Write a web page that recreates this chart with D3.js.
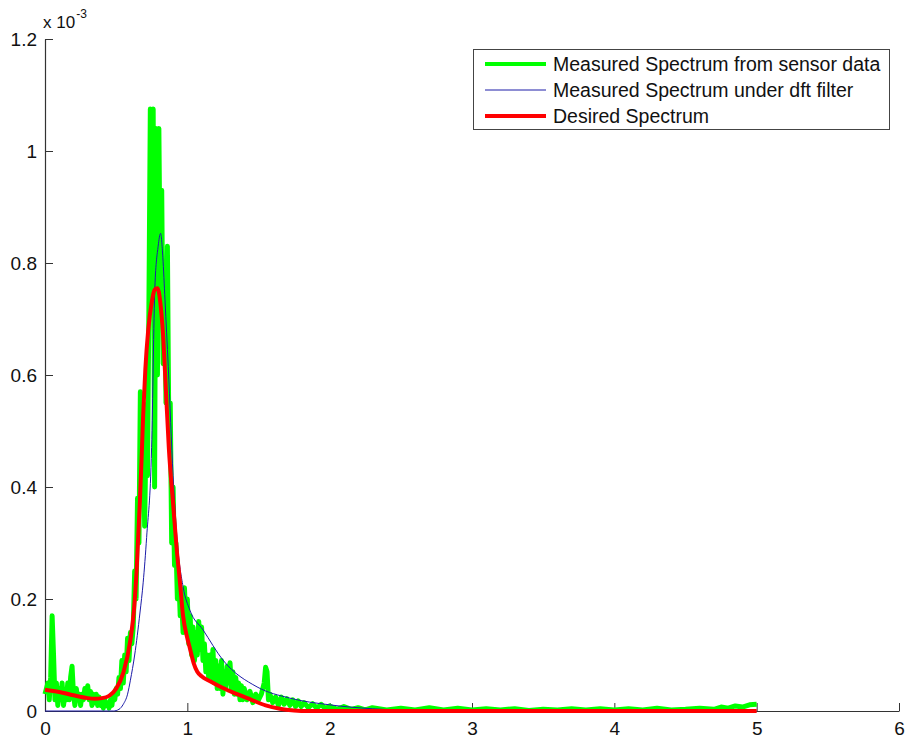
<!DOCTYPE html>
<html><head><meta charset="utf-8">
<script src="https://cdn.jsdelivr.net/npm/d3@7"></script>
<style>body{margin:0;background:#fff}svg{display:block;font-family:"Liberation Sans",Arial,sans-serif}</style>
</head><body><svg id="c" width="911" height="742"></svg>
<script>
// values in units of 1e-3
const greenX = [0,0.02,0.03,0.04,0.05,0.06,0.07,0.08,0.09,0.10,0.11,0.12,0.13,0.14,0.15,0.16,0.17,0.18,0.19,0.20,0.21,0.22,0.23,0.24,0.25,0.26,0.27,0.28,0.29,0.30,0.31,0.32,0.33,0.34,0.35,0.36,0.37,0.38,0.39,0.40,0.41,0.42,0.43,0.44,0.45,0.46,0.47,0.48,0.49,0.50,0.51,0.52,0.53,0.54,0.55,0.56,0.57,0.58,0.59,0.60,0.61,0.62,0.63,0.64,0.65,0.66,0.67,0.68,0.69,0.70,0.71,0.72,0.73,0.74,0.75,0.76,0.77,0.78,0.79,0.80,0.81,0.82,0.83,0.84,0.85,0.86,0.87,0.88,0.89,0.90,0.91,0.92,0.93,0.94,0.95,0.96,0.97,0.98,0.99,1.00,1.01,1.02,1.03,1.04,1.05,1.06,1.07,1.08,1.09,1.10,1.11,1.12,1.13,1.14,1.15,1.16,1.17,1.18,1.19,1.20,1.21,1.22,1.23,1.24,1.25,1.26,1.27,1.28,1.29,1.30,1.31,1.32,1.33,1.34,1.35,1.36,1.37,1.38,1.39,1.40,1.42,1.44,1.46,1.48,1.50,1.52,1.54,1.55,1.56,1.57,1.58,1.60,1.62,1.64,1.66,1.68,1.70,1.72,1.74,1.76,1.78,1.80,1.82,1.85,1.88,1.91,1.94,1.97,2.00,2.05,2.10,2.15,2.20,2.25,2.30,2.40,2.50,2.60,2.70,2.80,2.90,3.00,3.10,3.20,3.30,3.40,3.50,3.60,3.70,3.80,3.90,4.00,4.10,4.20,4.30,4.40,4.50,4.60,4.70,4.75,4.80,4.85,4.90,4.95,5.00];
const greenY = [0.03,0.05,0.02,0.06,0.17,0.10,0.02,0.05,0.01,0.04,0.02,0.05,0.01,0.03,0.02,0.05,0.02,0.06,0.08,0.03,0.01,0.04,0.02,0.03,0.01,0.03,0.02,0.04,0.03,0.045,0.02,0.035,0.01,0.03,0.015,0.03,0.01,0.025,0.01,0.02,0.005,0.02,0.01,0.015,0.005,0.02,0.01,0.03,0.02,0.04,0.03,0.06,0.04,0.09,0.05,0.10,0.07,0.13,0.09,0.14,0.12,0.15,0.25,0.20,0.38,0.30,0.57,0.45,0.55,0.33,0.50,0.42,0.72,1.075,0.80,1.075,0.40,1.04,0.60,1.04,0.75,0.93,0.62,0.80,0.55,0.83,0.50,0.55,0.30,0.40,0.26,0.30,0.20,0.24,0.17,0.20,0.14,0.22,0.15,0.20,0.12,0.17,0.10,0.15,0.09,0.14,0.10,0.16,0.11,0.15,0.09,0.12,0.07,0.10,0.06,0.10,0.06,0.11,0.05,0.09,0.04,0.08,0.04,0.09,0.03,0.07,0.04,0.08,0.05,0.086,0.04,0.07,0.03,0.06,0.03,0.05,0.02,0.045,0.02,0.04,0.02,0.035,0.015,0.03,0.02,0.03,0.05,0.078,0.07,0.02,0.03,0.015,0.025,0.01,0.025,0.012,0.022,0.01,0.02,0.008,0.018,0.008,0.015,0.006,0.013,0.005,0.012,0.004,0.009,0.003,0.008,0.003,0.006,0.002,0.006,0.002,0.005,0.002,0.006,0.002,0.005,0.002,0.004,0.002,0.004,0.001,0.003,0.002,0.004,0.002,0.004,0.002,0.004,0.002,0.005,0.002,0.003,0.005,0.003,0.007,0.005,0.009,0.007,0.011,0.012];
const blueX = [0,0.48,0.52,0.55,0.58,0.60,0.63,0.667,0.69,0.714,0.749,0.772,0.795,0.812,0.828,0.843,0.866,0.90,0.93,0.97,1.018,1.11,1.25,1.49,1.72,2.00,2.30,2.60,3.00,5.00];
const blueY = [0,0,0.003,0.012,0.03,0.055,0.10,0.175,0.23,0.31,0.47,0.757,0.83,0.853,0.81,0.734,0.615,0.42,0.30,0.222,0.18,0.145,0.091,0.043,0.023,0.011,0.004,0.001,0,0];
const redX = [0,0.1,0.2,0.3,0.35,0.4,0.45,0.5,0.55,0.6,0.625,0.645,0.667,0.68,0.69,0.705,0.725,0.75,0.77,0.79,0.81,0.83,0.85,0.87,0.9,0.925,0.948,0.97,1.0,1.02,1.045,1.07,1.1,1.16,1.25,1.35,1.45,1.55,1.65,1.75,1.85,5.0];
const redY = [0.038,0.034,0.028,0.023,0.022,0.023,0.027,0.04,0.068,0.127,0.18,0.257,0.377,0.46,0.53,0.61,0.68,0.73,0.752,0.755,0.73,0.67,0.57,0.47,0.37,0.29,0.23,0.17,0.13,0.11,0.085,0.07,0.062,0.053,0.041,0.03,0.02,0.01,0.004,0.001,0,0];
const xTicks = [0,1,2,3,4,5,6];
const yTicks = [0,0.2,0.4,0.6,0.8,1,1.2];
const seriesNames = ["Measured Spectrum from sensor data","Measured Spectrum under dft filter","Desired Spectrum"];
const seriesColors = ["#00ff00","#1c1ca8","#ff0000"];
const seriesWidths = [5,1,4];

const svg = d3.select("#c");
const L=45,R=899,T=39,B=711;
const x = d3.scaleLinear().domain([0,6]).range([L,R]);
const y = d3.scaleLinear().domain([0,1.2]).range([B,T]);

const series = [
  d3.zip(greenX,greenY),
  d3.zip(blueX,blueY),
  d3.zip(redX,redY)
];
const line = d3.line().x(d=>x(d[0])).y(d=>y(d[1]));
const lineSmooth = d3.line().x(d=>x(d[0])).y(d=>y(d[1])).curve(d3.curveMonotoneX);

// axes
const xa = svg.append("g").attr("transform",`translate(0,${B})`)
  .call(d3.axisBottom(x).tickValues(xTicks).tickFormat(d3.format("d")).tickSizeInner(-8).tickSizeOuter(0).tickPadding(11));
const ya = svg.append("g").attr("transform",`translate(${L},0)`)
  .call(d3.axisLeft(y).tickValues(yTicks).tickFormat(d=>d===0?"0":d3.format(".1f")(d).replace(/\.0$/,"")).tickSizeInner(-8).tickSizeOuter(0).tickPadding(8));
[xa,ya].forEach(g=>{
  g.selectAll("path").attr("stroke","#333").attr("stroke-width",1.2);
  g.selectAll("line").attr("stroke","#333");
  g.selectAll("text").attr("font-size",19).attr("fill","#111").attr("font-family","'Liberation Sans',Arial,sans-serif");
});
xa.selectAll("text").attr("dy","0.71em");
ya.selectAll("text").attr("dy","0.35em");

// exponent
const ex = svg.append("text").attr("x",43).attr("y",28).attr("font-size",17).attr("fill","#111");
ex.append("tspan").text("x 10");
ex.append("tspan").attr("font-size",12).attr("dy",-10).attr("dx",1).text("-3");

// lines
const plot = svg.append("g");
plot.append("path").datum(series[0]).attr("d",line).attr("fill","none").attr("stroke",seriesColors[0]).attr("stroke-width",seriesWidths[0]).attr("stroke-linejoin","round");
plot.append("path").datum(series[1]).attr("d",lineSmooth).attr("fill","none").attr("stroke",seriesColors[1]).attr("stroke-width",seriesWidths[1]);
plot.append("path").datum(series[2]).attr("d",lineSmooth).attr("fill","none").attr("stroke",seriesColors[2]).attr("stroke-width",seriesWidths[2]).attr("stroke-linejoin","round");

// legend
const lg = svg.append("g");
lg.append("rect").attr("x",473.5).attr("y",49.5).attr("width",416).attr("height",80).attr("fill","#fff").attr("stroke","#444").attr("stroke-width",1);
const rowsY=[64,90,116];
seriesNames.forEach((n,i)=>{
  lg.append("line").attr("x1",485).attr("x2",546).attr("y1",rowsY[i]).attr("y2",rowsY[i]).attr("stroke",seriesColors[i]).attr("stroke-width",Math.min(seriesWidths[i],4));
  lg.append("text").attr("x",553).attr("y",rowsY[i]).attr("dy","0.35em").attr("font-size",19.5).attr("fill","#111").text(n);
});
</script></body></html>
